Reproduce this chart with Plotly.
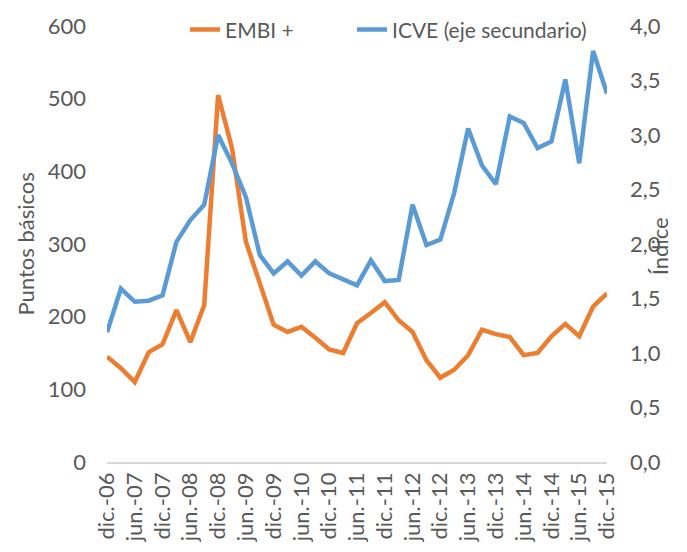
import plotly.graph_objects as go

years = ["06", "07", "08", "09", "10", "11", "12", "13", "14", "15"]
# quarterly periods from dic.-06 to dic.-15
quarters = ["dic.-06"]
for y in years[1:]:
    for m in ["mar.", "jun.", "sep.", "dic."]:
        quarters.append(f"{m}-{y}")

embi = [145, 129, 110, 151, 162, 209, 165, 216, 505, 432, 303, 246, 189, 179, 186,
        171, 155, 150, 191, 205, 220, 195, 179, 140, 116, 127, 147, 182, 176, 172,
        147, 150, 173, 190, 173, 214, 232]
icve = [1.19, 1.59, 1.47, 1.48, 1.53, 2.02, 2.22, 2.36, 3.00, 2.74, 2.43, 1.90, 1.73,
        1.84, 1.71, 1.84, 1.73, 1.68, 1.62, 1.85, 1.66, 1.67, 2.36, 1.99, 2.04, 2.47,
        3.06, 2.72, 2.55, 3.17, 3.11, 2.88, 2.94, 3.51, 2.74, 3.77, 3.38]

tick_idx = list(range(0, len(quarters), 2))
tick_text = [quarters[i] for i in tick_idx]

FONT = "Lato"
GREY = "#595959"
FS = 22
LFS = 21

x = list(range(len(quarters)))

fig = go.Figure()
fig.add_trace(go.Scatter(x=x, y=embi, name="EMBI +", mode="lines", legend="legend",
                         line=dict(color="#ED7D31", width=4.5)))
fig.add_trace(go.Scatter(x=x, y=icve, name="ICVE (eje secundario)", mode="lines",
                         yaxis="y2", legend="legend2",
                         line=dict(color="#5B9BD5", width=4.5)))

legend_common = dict(orientation="h", xanchor="left", y=0.991, yanchor="middle",
                     font=dict(size=LFS, color=GREY), bgcolor="rgba(0,0,0,0)",
                     itemwidth=30)

fig.update_layout(
    width=671, height=536,
    margin=dict(l=99, r=72, t=18, b=82, autoexpand=False),
    paper_bgcolor="white", plot_bgcolor="white",
    separators=",.",
    font=dict(family=FONT, color=GREY, size=FS),
    showlegend=True,
    legend=dict(x=0.156, **legend_common),
    legend2=dict(x=0.49, **legend_common),
    xaxis=dict(range=[0, len(quarters) - 1], tickmode="array", tickvals=tick_idx,
               ticktext=tick_text, tickangle=-90, showgrid=False, zeroline=False,
               showline=True, linecolor="#D9D9D9", linewidth=1.5, ticks="",
               automargin=False, tickfont=dict(size=FS, color=GREY)),
    yaxis=dict(range=[0, 600], dtick=100, showgrid=False, zeroline=False,
               showline=False, ticks="", ticklabelstandoff=20, automargin=False,
               tickfont=dict(size=FS, color=GREY)),
    yaxis2=dict(range=[0, 4], dtick=0.5, tickformat=".1f", overlaying="y",
                side="right", showgrid=False, zeroline=False, showline=False,
                ticks="", ticklabelstandoff=22, automargin=False,
                tickfont=dict(size=FS, color=GREY)),
    annotations=[
        dict(text="Puntos básicos", xref="paper", yref="paper", x=-0.165, y=0.5,
             xanchor="center", yanchor="middle", textangle=-90, showarrow=False,
             font=dict(size=FS, color=GREY)),
        dict(text="Índice", xref="paper", yref="paper", x=1.104, y=0.495,
             xanchor="center", yanchor="middle", textangle=-90, showarrow=False,
             font=dict(size=FS, color=GREY)),
    ],
)

fig.write_html("out.html")
